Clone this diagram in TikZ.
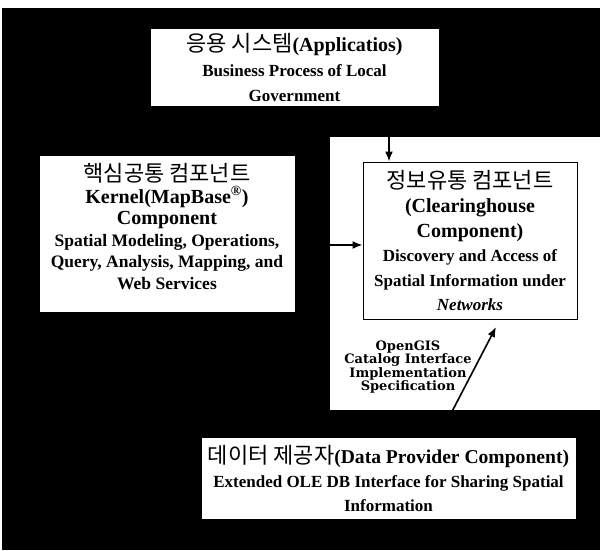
\documentclass[tikz,border=0pt]{standalone}
\usepackage{fontspec}
\setmainfont{Liberation Serif}
\newfontfamily\kr{Noto Sans CJK KR}
\newfontfamily\dvs{DejaVu Serif}
\usetikzlibrary{arrows.meta}
\begin{document}
\begin{tikzpicture}[x=1pt,y=-1pt,
 box/.style={draw=black, line width=1pt, fill=white, inner sep=0pt, align=center, anchor=center},
 txt/.style={inner sep=0pt, align=center, anchor=center},
 conn/.style={line width=1.6pt, draw=black, -{Latex[length=10pt,width=8pt]}},
]
\useasboundingbox (0,0) rectangle (600,550);
\fill[white] (0,0) rectangle (600,550);
\fill[black] (2,8) rectangle (600,550);
\fill[white] (330,137) rectangle (600,410);

\node[box, minimum width=289pt, minimum height=78pt,
  font=\bfseries\fontsize{17}{25}\selectfont] (app) at (294.5,67)
  {{\kr\mdseries\fontsize{22}{25}\selectfont 응용 시스템}{\bfseries\fontsize{20}{25}\selectfont(Applicatios)}\\
   Business Process of Local\\Government};

\node[box, minimum width=256pt, minimum height=157pt] (kernel) at (167,233.5) {};
\node[txt, font=\bfseries\fontsize{17.5}{21.6}\selectfont] (kerneltext) at (167,226.5)
  {{\kr\mdseries\fontsize{22}{21.6}\selectfont 핵심공통 컴포넌트}\\
   {\bfseries\fontsize{20}{21.6}\selectfont Kernel(MapBase\smash{\textsuperscript{®}})}\\
   {\bfseries\fontsize{20}{21.6}\selectfont Component}\\
   Spatial Modeling, Operations,\\Query, Analysis, Mapping, and\\Web Services};

\node[box, minimum width=214pt, minimum height=157pt,
  font=\bfseries\fontsize{17}{24.5}\selectfont] (clear) at (470,240.5)
  {{\kr\mdseries\fontsize{22}{24.5}\selectfont 정보유통 컴포넌트}\\
   {\bfseries\fontsize{20}{24.5}\selectfont(Clearinghouse}\\
   {\bfseries\fontsize{20}{24.5}\selectfont Component)}\\
   Discovery and Access of\\Spatial Information under\\\textit{Networks}};

\node[box, minimum width=375pt, minimum height=82pt,
  font=\bfseries\fontsize{17}{24}\selectfont] (data) at (388.5,478)
  {{\kr\mdseries\fontsize{22}{24}\selectfont 데이터 제공자}{\bfseries\fontsize{19.6}{24}\selectfont(Data Provider Component)}\\
   Extended OLE DB Interface for Sharing Spatial\\Information};

\node[txt, font=\dvs\bfseries\fontsize{13}{13.5}\selectfont] (ogc) at (408,367)
  {OpenGIS\\Catalog Interface\\Implementation\\Specification};

\coordinate (downx) at (389,0);
\coordinate (righty) at (0,245);
\coordinate (diagx) at (439,0);
\coordinate (tip) at (496,327);

\draw[conn] (app.south -| downx) -- (clear.north -| downx);
\draw[conn] (kernel.east |- righty) -- (clear.west |- righty);
\draw[conn] (data.north -| diagx) -- (tip);
\end{tikzpicture}
\end{document}
